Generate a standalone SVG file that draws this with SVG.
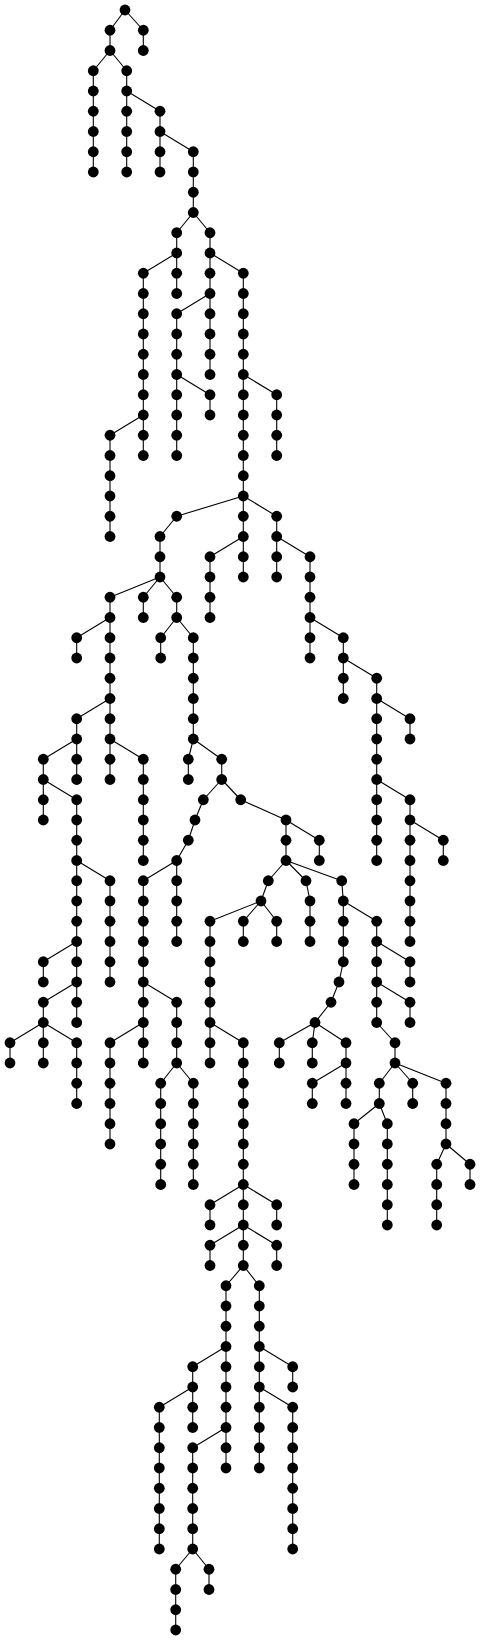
<svg xmlns="http://www.w3.org/2000/svg" width="480" height="1642" viewBox="0 0 480 1642">
<style>
.e line{stroke:#000;stroke-width:1.1}
circle{fill:#000}
</style>
<rect width="480" height="1642" fill="#fff"/>
<g id="connectors" class="e">
<line x1="110" y1="30.25" x2="110" y2="50.5"/>
<line x1="143.3" y1="30.25" x2="143.3" y2="50.5"/>
<line x1="93.3" y1="70.75" x2="93.3" y2="172"/>
<line x1="126.7" y1="70.75" x2="126.7" y2="172"/>
<line x1="160" y1="111.25" x2="160" y2="172"/>
<line x1="193.3" y1="151.75" x2="193.3" y2="212.5"/>
<line x1="176.7" y1="232.75" x2="176.7" y2="293.5"/>
<line x1="210" y1="232.75" x2="210" y2="374.5"/>
<line x1="143.3" y1="273.25" x2="143.3" y2="455.5"/>
<line x1="110" y1="435.25" x2="110" y2="536.5"/>
<line x1="176.7" y1="313.75" x2="176.7" y2="455.5"/>
<line x1="210" y1="394.75" x2="210" y2="415"/>
<line x1="243.3" y1="273.25" x2="243.3" y2="577"/>
<line x1="276.7" y1="394.75" x2="276.7" y2="455.5"/>
<line x1="276.7" y1="516.25" x2="276.7" y2="577"/>
<line x1="160" y1="536.5" x2="160" y2="577"/>
<line x1="110" y1="597.25" x2="110" y2="779.5"/>
<line x1="143.3" y1="597.25" x2="143.3" y2="617.5"/>
<line x1="176.7" y1="597.25" x2="176.7" y2="617.5"/>
<line x1="76.7" y1="637.75" x2="76.7" y2="658"/>
<line x1="76.7" y1="718.75" x2="76.7" y2="779.5"/>
<line x1="43.3" y1="759.25" x2="43.3" y2="820"/>
<line x1="76.7" y1="799.75" x2="76.7" y2="1022.5"/>
<line x1="76.7" y1="1042.75" x2="76.7" y2="1103.5"/>
<line x1="110" y1="880.75" x2="110" y2="982"/>
<line x1="43.3" y1="961.75" x2="43.3" y2="982"/>
<line x1="43.3" y1="1002.25" x2="43.3" y2="1063"/>
<line x1="10" y1="1042.75" x2="10" y2="1063"/>
<line x1="143.3" y1="759.25" x2="143.3" y2="860.5"/>
<line x1="160.7" y1="637.75" x2="160.7" y2="658"/>
<line x1="193.3" y1="637.75" x2="193.3" y2="739"/>
<line x1="188.3" y1="759.25" x2="188.3" y2="779.5"/>
<line x1="221.7" y1="759.25" x2="221.7" y2="779.5"/>
<line x1="176.7" y1="860.5" x2="176.7" y2="941.5"/>
<line x1="143.3" y1="880.75" x2="143.3" y2="1063"/>
<line x1="110" y1="1042.75" x2="110" y2="1144"/>
<line x1="176.7" y1="1002.25" x2="176.7" y2="1063"/>
<line x1="160.7" y1="1083.25" x2="160.7" y2="1184.5"/>
<line x1="193.3" y1="1083.25" x2="193.3" y2="1184.5"/>
<line x1="286" y1="820" x2="286" y2="860.5"/>
<line x1="319.3" y1="840.25" x2="319.3" y2="860.5"/>
<line x1="210" y1="921.25" x2="210" y2="1063"/>
<line x1="243.3" y1="1042.75" x2="243.3" y2="1265.5"/>
<line x1="210" y1="1204.75" x2="210" y2="1225"/>
<line x1="210" y1="1245.25" x2="210" y2="1265.5"/>
<line x1="276.7" y1="1204.75" x2="276.7" y2="1225"/>
<line x1="276.7" y1="1245.25" x2="276.7" y2="1265.5"/>
<line x1="226" y1="1285.75" x2="226" y2="1468"/>
<line x1="192.7" y1="1366.75" x2="192.7" y2="1427.5"/>
<line x1="159.3" y1="1407.25" x2="159.3" y2="1549"/>
<line x1="192.7" y1="1447.75" x2="192.7" y2="1549"/>
<line x1="175.7" y1="1569.25" x2="175.7" y2="1630"/>
<line x1="209" y1="1569.25" x2="209" y2="1589.5"/>
<line x1="259.3" y1="1285.75" x2="259.3" y2="1468"/>
<line x1="292.7" y1="1366.75" x2="292.7" y2="1387"/>
<line x1="292.7" y1="1407.25" x2="292.7" y2="1549"/>
<line x1="243.3" y1="921.25" x2="243.3" y2="941.5"/>
<line x1="276.7" y1="921.25" x2="276.7" y2="941.5"/>
<line x1="310" y1="901" x2="310" y2="941.5"/>
<line x1="343.3" y1="901" x2="343.3" y2="961.75"/>
<line x1="279.3" y1="1042.75" x2="279.3" y2="1063"/>
<line x1="312.3" y1="1042.75" x2="312.3" y2="1063"/>
<line x1="346" y1="1042.75" x2="346" y2="1103.5"/>
<line x1="312.3" y1="1083.25" x2="312.3" y2="1103.5"/>
<line x1="376.7" y1="921.25" x2="376.7" y2="1022.5"/>
<line x1="410" y1="961.75" x2="410" y2="982"/>
<line x1="410" y1="1002.25" x2="410" y2="1022.5"/>
<line x1="395" y1="1042.75" x2="395" y2="1063"/>
<line x1="379.3" y1="1083.25" x2="379.3" y2="1103.5"/>
<line x1="354" y1="1123.75" x2="354" y2="1184.5"/>
<line x1="387.3" y1="1123.75" x2="387.3" y2="1225"/>
<line x1="412.7" y1="1083.25" x2="412.7" y2="1103.5"/>
<line x1="446" y1="1083.25" x2="446" y2="1144"/>
<line x1="436.7" y1="1164.25" x2="436.7" y2="1225"/>
<line x1="470" y1="1164.25" x2="470" y2="1184.5"/>
<line x1="210" y1="556.75" x2="210" y2="617.5"/>
<line x1="310" y1="556.75" x2="310" y2="658"/>
<line x1="343.3" y1="637.75" x2="343.3" y2="698.5"/>
<line x1="376.7" y1="678.25" x2="376.7" y2="860.5"/>
<line x1="410" y1="718.75" x2="410" y2="739"/>
<line x1="410" y1="799.75" x2="410" y2="941.5"/>
<line x1="443.3" y1="840.25" x2="443.3" y2="860.5"/>
<line x1="125" y1="10" x2="110" y2="30.25"/>
<line x1="125" y1="10" x2="143.3" y2="30.25"/>
<line x1="110" y1="50.5" x2="93.3" y2="70.75"/>
<line x1="110" y1="50.5" x2="126.7" y2="70.75"/>
<line x1="126.7" y1="91" x2="160" y2="111.25"/>
<line x1="160" y1="131.5" x2="193.3" y2="151.75"/>
<line x1="193.3" y1="212.5" x2="176.7" y2="232.75"/>
<line x1="193.3" y1="212.5" x2="210" y2="232.75"/>
<line x1="176.7" y1="253" x2="143.3" y2="273.25"/>
<line x1="143.3" y1="415" x2="110" y2="435.25"/>
<line x1="210" y1="293.5" x2="176.7" y2="313.75"/>
<line x1="176.7" y1="374.5" x2="210" y2="394.75"/>
<line x1="210" y1="253" x2="243.3" y2="273.25"/>
<line x1="243.3" y1="374.5" x2="276.7" y2="394.75"/>
<line x1="243.3" y1="496" x2="176.7" y2="516.25"/>
<line x1="176.7" y1="516.25" x2="160" y2="536.5"/>
<line x1="160" y1="577" x2="110" y2="597.25"/>
<line x1="160" y1="577" x2="143.3" y2="597.25"/>
<line x1="160" y1="577" x2="176.7" y2="597.25"/>
<line x1="110" y1="617.5" x2="76.7" y2="637.75"/>
<line x1="110" y1="698.5" x2="76.7" y2="718.75"/>
<line x1="76.7" y1="739" x2="43.3" y2="759.25"/>
<line x1="43.3" y1="779.5" x2="76.7" y2="799.75"/>
<line x1="76.7" y1="860.5" x2="110" y2="880.75"/>
<line x1="76.7" y1="941.5" x2="43.3" y2="961.75"/>
<line x1="76.7" y1="982" x2="43.3" y2="1002.25"/>
<line x1="43.3" y1="1022.5" x2="10" y2="1042.75"/>
<line x1="43.3" y1="1022.5" x2="76.7" y2="1042.75"/>
<line x1="110" y1="739" x2="143.3" y2="759.25"/>
<line x1="176.7" y1="617.5" x2="160.7" y2="637.75"/>
<line x1="176.7" y1="617.5" x2="193.3" y2="637.75"/>
<line x1="193.3" y1="739" x2="188.3" y2="759.25"/>
<line x1="193.3" y1="739" x2="221.7" y2="759.25"/>
<line x1="221.7" y1="779.5" x2="203.3" y2="799.75"/>
<line x1="203.3" y1="799.75" x2="195" y2="820"/>
<line x1="195" y1="820" x2="188.3" y2="840.25"/>
<line x1="188.3" y1="840.25" x2="176.7" y2="860.5"/>
<line x1="176.7" y1="860.5" x2="143.3" y2="880.75"/>
<line x1="143.3" y1="1022.5" x2="110" y2="1042.75"/>
<line x1="143.3" y1="982" x2="176.7" y2="1002.25"/>
<line x1="176.7" y1="1063" x2="160.7" y2="1083.25"/>
<line x1="176.7" y1="1063" x2="193.3" y2="1083.25"/>
<line x1="221.7" y1="779.5" x2="240.7" y2="799.75"/>
<line x1="240.7" y1="799.75" x2="286" y2="820"/>
<line x1="286" y1="820" x2="319.3" y2="840.25"/>
<line x1="286" y1="860.5" x2="268.3" y2="880.75"/>
<line x1="268.3" y1="880.75" x2="261" y2="901"/>
<line x1="261" y1="901" x2="210" y2="921.25"/>
<line x1="210" y1="1022.5" x2="243.3" y2="1042.75"/>
<line x1="243.3" y1="1184.5" x2="210" y2="1204.75"/>
<line x1="243.3" y1="1184.5" x2="276.7" y2="1204.75"/>
<line x1="243.3" y1="1225" x2="210" y2="1245.25"/>
<line x1="243.3" y1="1225" x2="276.7" y2="1245.25"/>
<line x1="243.3" y1="1265.5" x2="226" y2="1285.75"/>
<line x1="243.3" y1="1265.5" x2="259.3" y2="1285.75"/>
<line x1="226" y1="1346.5" x2="192.7" y2="1366.75"/>
<line x1="192.7" y1="1387" x2="159.3" y2="1407.25"/>
<line x1="226" y1="1427.5" x2="192.7" y2="1447.75"/>
<line x1="192.7" y1="1549" x2="175.7" y2="1569.25"/>
<line x1="192.7" y1="1549" x2="209" y2="1569.25"/>
<line x1="259.3" y1="1346.5" x2="292.7" y2="1366.75"/>
<line x1="259.3" y1="1387" x2="292.7" y2="1407.25"/>
<line x1="261" y1="901" x2="243.3" y2="921.25"/>
<line x1="261" y1="901" x2="276.7" y2="921.25"/>
<line x1="286" y1="860.5" x2="306" y2="880.75"/>
<line x1="306" y1="880.75" x2="310" y2="901"/>
<line x1="286" y1="860.5" x2="341.7" y2="880.75"/>
<line x1="341.7" y1="880.75" x2="343.3" y2="901"/>
<line x1="343.3" y1="961.75" x2="339" y2="982"/>
<line x1="339" y1="982" x2="331" y2="1002.25"/>
<line x1="331" y1="1002.25" x2="315" y2="1022.5"/>
<line x1="315" y1="1022.5" x2="279.3" y2="1042.75"/>
<line x1="315" y1="1022.5" x2="312.3" y2="1042.75"/>
<line x1="315" y1="1022.5" x2="346" y2="1042.75"/>
<line x1="346" y1="1063" x2="312.3" y2="1083.25"/>
<line x1="343.3" y1="901" x2="376.7" y2="921.25"/>
<line x1="376.7" y1="941.5" x2="410" y2="961.75"/>
<line x1="376.7" y1="982" x2="410" y2="1002.25"/>
<line x1="376.7" y1="1022.5" x2="395" y2="1042.75"/>
<line x1="395" y1="1063" x2="379.3" y2="1083.25"/>
<line x1="395" y1="1063" x2="412.7" y2="1083.25"/>
<line x1="395" y1="1063" x2="446" y2="1083.25"/>
<line x1="379.3" y1="1103.5" x2="354" y2="1123.75"/>
<line x1="379.3" y1="1103.5" x2="387.3" y2="1123.75"/>
<line x1="446" y1="1144" x2="436.7" y2="1164.25"/>
<line x1="446" y1="1144" x2="470" y2="1164.25"/>
<line x1="243.3" y1="536.5" x2="210" y2="556.75"/>
<line x1="243.3" y1="496" x2="276.7" y2="516.25"/>
<line x1="276.7" y1="536.5" x2="310" y2="556.75"/>
<line x1="310" y1="617.5" x2="343.3" y2="637.75"/>
<line x1="343.3" y1="658" x2="376.7" y2="678.25"/>
<line x1="376.7" y1="698.5" x2="410" y2="718.75"/>
<line x1="376.7" y1="779.5" x2="410" y2="799.75"/>
<line x1="410" y1="820" x2="443.3" y2="840.25"/>
</g>
<g id="nodes">
<g id="n0"><circle cx="125" cy="10" r="5.4"/></g>
<g id="n1"><circle cx="110" cy="30.25" r="5.4"/></g>
<g id="n2"><circle cx="143.3" cy="30.25" r="5.4"/></g>
<g id="n3"><circle cx="110" cy="50.5" r="5.4"/></g>
<g id="n4"><circle cx="143.3" cy="50.5" r="5.4"/></g>
<g id="n5"><circle cx="93.3" cy="70.75" r="5.4"/></g>
<g id="n6"><circle cx="93.3" cy="91" r="5.4"/></g>
<g id="n7"><circle cx="93.3" cy="111.25" r="5.4"/></g>
<g id="n8"><circle cx="93.3" cy="131.5" r="5.4"/></g>
<g id="n9"><circle cx="93.3" cy="151.75" r="5.4"/></g>
<g id="n10"><circle cx="93.3" cy="172" r="5.4"/></g>
<g id="n11"><circle cx="126.7" cy="70.75" r="5.4"/></g>
<g id="n12"><circle cx="126.7" cy="91" r="5.4"/></g>
<g id="n13"><circle cx="126.7" cy="111.25" r="5.4"/></g>
<g id="n14"><circle cx="126.7" cy="131.5" r="5.4"/></g>
<g id="n15"><circle cx="126.7" cy="151.75" r="5.4"/></g>
<g id="n16"><circle cx="126.7" cy="172" r="5.4"/></g>
<g id="n17"><circle cx="160" cy="111.25" r="5.4"/></g>
<g id="n18"><circle cx="160" cy="131.5" r="5.4"/></g>
<g id="n19"><circle cx="160" cy="151.75" r="5.4"/></g>
<g id="n20"><circle cx="160" cy="172" r="5.4"/></g>
<g id="n21"><circle cx="193.3" cy="151.75" r="5.4"/></g>
<g id="n22"><circle cx="193.3" cy="172" r="5.4"/></g>
<g id="n23"><circle cx="193.3" cy="192.25" r="5.4"/></g>
<g id="n24"><circle cx="193.3" cy="212.5" r="5.4"/></g>
<g id="n25"><circle cx="176.7" cy="232.75" r="5.4"/></g>
<g id="n26"><circle cx="176.7" cy="253" r="5.4"/></g>
<g id="n27"><circle cx="210" cy="232.75" r="5.4"/></g>
<g id="n28"><circle cx="210" cy="253" r="5.4"/></g>
<g id="n29"><circle cx="143.3" cy="273.25" r="5.4"/></g>
<g id="n30"><circle cx="143.3" cy="293.5" r="5.4"/></g>
<g id="n31"><circle cx="143.3" cy="313.75" r="5.4"/></g>
<g id="n32"><circle cx="143.3" cy="334" r="5.4"/></g>
<g id="n33"><circle cx="143.3" cy="354.25" r="5.4"/></g>
<g id="n34"><circle cx="143.3" cy="374.5" r="5.4"/></g>
<g id="n35"><circle cx="143.3" cy="394.75" r="5.4"/></g>
<g id="n36"><circle cx="143.3" cy="415" r="5.4"/></g>
<g id="n37"><circle cx="176.7" cy="273.25" r="5.4"/></g>
<g id="n38"><circle cx="176.7" cy="293.5" r="5.4"/></g>
<g id="n39"><circle cx="143.3" cy="435.25" r="5.4"/></g>
<g id="n40"><circle cx="143.3" cy="455.5" r="5.4"/></g>
<g id="n41"><circle cx="110" cy="435.25" r="5.4"/></g>
<g id="n42"><circle cx="110" cy="455.5" r="5.4"/></g>
<g id="n43"><circle cx="110" cy="475.75" r="5.4"/></g>
<g id="n44"><circle cx="110" cy="496" r="5.4"/></g>
<g id="n45"><circle cx="110" cy="516.25" r="5.4"/></g>
<g id="n46"><circle cx="110" cy="536.5" r="5.4"/></g>
<g id="n47"><circle cx="210" cy="273.25" r="5.4"/></g>
<g id="n48"><circle cx="210" cy="293.5" r="5.4"/></g>
<g id="n49"><circle cx="176.7" cy="313.75" r="5.4"/></g>
<g id="n50"><circle cx="176.7" cy="334" r="5.4"/></g>
<g id="n51"><circle cx="176.7" cy="354.25" r="5.4"/></g>
<g id="n52"><circle cx="176.7" cy="374.5" r="5.4"/></g>
<g id="n53"><circle cx="176.7" cy="394.75" r="5.4"/></g>
<g id="n54"><circle cx="176.7" cy="415" r="5.4"/></g>
<g id="n55"><circle cx="176.7" cy="435.25" r="5.4"/></g>
<g id="n56"><circle cx="176.7" cy="455.5" r="5.4"/></g>
<g id="n57"><circle cx="210" cy="313.75" r="5.4"/></g>
<g id="n58"><circle cx="210" cy="334" r="5.4"/></g>
<g id="n59"><circle cx="210" cy="354.25" r="5.4"/></g>
<g id="n60"><circle cx="210" cy="374.5" r="5.4"/></g>
<g id="n61"><circle cx="210" cy="394.75" r="5.4"/></g>
<g id="n62"><circle cx="210" cy="415" r="5.4"/></g>
<g id="n63"><circle cx="243.3" cy="273.25" r="5.4"/></g>
<g id="n64"><circle cx="243.3" cy="293.5" r="5.4"/></g>
<g id="n65"><circle cx="243.3" cy="313.75" r="5.4"/></g>
<g id="n66"><circle cx="243.3" cy="334" r="5.4"/></g>
<g id="n67"><circle cx="243.3" cy="354.25" r="5.4"/></g>
<g id="n68"><circle cx="243.3" cy="374.5" r="5.4"/></g>
<g id="n69"><circle cx="243.3" cy="394.75" r="5.4"/></g>
<g id="n70"><circle cx="243.3" cy="415" r="5.4"/></g>
<g id="n71"><circle cx="243.3" cy="435.25" r="5.4"/></g>
<g id="n72"><circle cx="243.3" cy="455.5" r="5.4"/></g>
<g id="n73"><circle cx="243.3" cy="475.75" r="5.4"/></g>
<g id="n74"><circle cx="243.3" cy="496" r="5.4"/></g>
<g id="n75"><circle cx="276.7" cy="394.75" r="5.4"/></g>
<g id="n76"><circle cx="276.7" cy="415" r="5.4"/></g>
<g id="n77"><circle cx="276.7" cy="435.25" r="5.4"/></g>
<g id="n78"><circle cx="276.7" cy="455.5" r="5.4"/></g>
<g id="n79"><circle cx="176.7" cy="516.25" r="5.4"/></g>
<g id="n80"><circle cx="160" cy="536.5" r="5.4"/></g>
<g id="n81"><circle cx="160" cy="556.75" r="5.4"/></g>
<g id="n82"><circle cx="160" cy="577" r="5.4"/></g>
<g id="n83"><circle cx="110" cy="597.25" r="5.4"/></g>
<g id="n84"><circle cx="110" cy="617.5" r="5.4"/></g>
<g id="n85"><circle cx="143.3" cy="597.25" r="5.4"/></g>
<g id="n86"><circle cx="143.3" cy="617.5" r="5.4"/></g>
<g id="n87"><circle cx="176.7" cy="597.25" r="5.4"/></g>
<g id="n88"><circle cx="176.7" cy="617.5" r="5.4"/></g>
<g id="n89"><circle cx="76.7" cy="637.75" r="5.4"/></g>
<g id="n90"><circle cx="76.7" cy="658" r="5.4"/></g>
<g id="n91"><circle cx="110" cy="637.75" r="5.4"/></g>
<g id="n92"><circle cx="110" cy="658" r="5.4"/></g>
<g id="n93"><circle cx="110" cy="678.25" r="5.4"/></g>
<g id="n94"><circle cx="110" cy="698.5" r="5.4"/></g>
<g id="n95"><circle cx="76.7" cy="718.75" r="5.4"/></g>
<g id="n96"><circle cx="76.7" cy="739" r="5.4"/></g>
<g id="n97"><circle cx="43.3" cy="759.25" r="5.4"/></g>
<g id="n98"><circle cx="43.3" cy="779.5" r="5.4"/></g>
<g id="n99"><circle cx="76.7" cy="759.25" r="5.4"/></g>
<g id="n100"><circle cx="76.7" cy="779.5" r="5.4"/></g>
<g id="n101"><circle cx="43.3" cy="799.75" r="5.4"/></g>
<g id="n102"><circle cx="43.3" cy="820" r="5.4"/></g>
<g id="n103"><circle cx="76.7" cy="799.75" r="5.4"/></g>
<g id="n104"><circle cx="76.7" cy="820" r="5.4"/></g>
<g id="n105"><circle cx="76.7" cy="840.25" r="5.4"/></g>
<g id="n106"><circle cx="76.7" cy="860.5" r="5.4"/></g>
<g id="n107"><circle cx="76.7" cy="880.75" r="5.4"/></g>
<g id="n108"><circle cx="76.7" cy="901" r="5.4"/></g>
<g id="n109"><circle cx="76.7" cy="921.25" r="5.4"/></g>
<g id="n110"><circle cx="76.7" cy="941.5" r="5.4"/></g>
<g id="n111"><circle cx="110" cy="880.75" r="5.4"/></g>
<g id="n112"><circle cx="110" cy="901" r="5.4"/></g>
<g id="n113"><circle cx="110" cy="921.25" r="5.4"/></g>
<g id="n114"><circle cx="110" cy="941.5" r="5.4"/></g>
<g id="n115"><circle cx="110" cy="961.75" r="5.4"/></g>
<g id="n116"><circle cx="110" cy="982" r="5.4"/></g>
<g id="n117"><circle cx="43.3" cy="961.75" r="5.4"/></g>
<g id="n118"><circle cx="43.3" cy="982" r="5.4"/></g>
<g id="n119"><circle cx="76.7" cy="961.75" r="5.4"/></g>
<g id="n120"><circle cx="76.7" cy="982" r="5.4"/></g>
<g id="n121"><circle cx="43.3" cy="1002.25" r="5.4"/></g>
<g id="n122"><circle cx="43.3" cy="1022.5" r="5.4"/></g>
<g id="n123"><circle cx="76.7" cy="1002.25" r="5.4"/></g>
<g id="n124"><circle cx="76.7" cy="1022.5" r="5.4"/></g>
<g id="n125"><circle cx="10" cy="1042.75" r="5.4"/></g>
<g id="n126"><circle cx="10" cy="1063" r="5.4"/></g>
<g id="n127"><circle cx="43.3" cy="1042.75" r="5.4"/></g>
<g id="n128"><circle cx="43.3" cy="1063" r="5.4"/></g>
<g id="n129"><circle cx="76.7" cy="1042.75" r="5.4"/></g>
<g id="n130"><circle cx="76.7" cy="1063" r="5.4"/></g>
<g id="n131"><circle cx="76.7" cy="1083.25" r="5.4"/></g>
<g id="n132"><circle cx="76.7" cy="1103.5" r="5.4"/></g>
<g id="n133"><circle cx="110" cy="718.75" r="5.4"/></g>
<g id="n134"><circle cx="110" cy="739" r="5.4"/></g>
<g id="n135"><circle cx="110" cy="759.25" r="5.4"/></g>
<g id="n136"><circle cx="110" cy="779.5" r="5.4"/></g>
<g id="n137"><circle cx="143.3" cy="759.25" r="5.4"/></g>
<g id="n138"><circle cx="143.3" cy="779.5" r="5.4"/></g>
<g id="n139"><circle cx="143.3" cy="799.75" r="5.4"/></g>
<g id="n140"><circle cx="143.3" cy="820" r="5.4"/></g>
<g id="n141"><circle cx="143.3" cy="840.25" r="5.4"/></g>
<g id="n142"><circle cx="143.3" cy="860.5" r="5.4"/></g>
<g id="n143"><circle cx="160.7" cy="637.75" r="5.4"/></g>
<g id="n144"><circle cx="160.7" cy="658" r="5.4"/></g>
<g id="n145"><circle cx="193.3" cy="637.75" r="5.4"/></g>
<g id="n146"><circle cx="193.3" cy="658" r="5.4"/></g>
<g id="n147"><circle cx="193.3" cy="678.25" r="5.4"/></g>
<g id="n148"><circle cx="193.3" cy="698.5" r="5.4"/></g>
<g id="n149"><circle cx="193.3" cy="718.75" r="5.4"/></g>
<g id="n150"><circle cx="193.3" cy="739" r="5.4"/></g>
<g id="n151"><circle cx="188.3" cy="759.25" r="5.4"/></g>
<g id="n152"><circle cx="188.3" cy="779.5" r="5.4"/></g>
<g id="n153"><circle cx="221.7" cy="759.25" r="5.4"/></g>
<g id="n154"><circle cx="221.7" cy="779.5" r="5.4"/></g>
<g id="n155"><circle cx="203.3" cy="799.75" r="5.4"/></g>
<g id="n156"><circle cx="195" cy="820" r="5.4"/></g>
<g id="n157"><circle cx="188.3" cy="840.25" r="5.4"/></g>
<g id="n158"><circle cx="176.7" cy="860.5" r="5.4"/></g>
<g id="n159"><circle cx="176.7" cy="880.75" r="5.4"/></g>
<g id="n160"><circle cx="176.7" cy="901" r="5.4"/></g>
<g id="n161"><circle cx="176.7" cy="921.25" r="5.4"/></g>
<g id="n162"><circle cx="176.7" cy="941.5" r="5.4"/></g>
<g id="n163"><circle cx="143.3" cy="880.75" r="5.4"/></g>
<g id="n164"><circle cx="143.3" cy="901" r="5.4"/></g>
<g id="n165"><circle cx="143.3" cy="921.25" r="5.4"/></g>
<g id="n166"><circle cx="143.3" cy="941.5" r="5.4"/></g>
<g id="n167"><circle cx="143.3" cy="961.75" r="5.4"/></g>
<g id="n168"><circle cx="143.3" cy="982" r="5.4"/></g>
<g id="n169"><circle cx="143.3" cy="1002.25" r="5.4"/></g>
<g id="n170"><circle cx="143.3" cy="1022.5" r="5.4"/></g>
<g id="n171"><circle cx="143.3" cy="1042.75" r="5.4"/></g>
<g id="n172"><circle cx="143.3" cy="1063" r="5.4"/></g>
<g id="n173"><circle cx="110" cy="1042.75" r="5.4"/></g>
<g id="n174"><circle cx="110" cy="1063" r="5.4"/></g>
<g id="n175"><circle cx="110" cy="1083.25" r="5.4"/></g>
<g id="n176"><circle cx="110" cy="1103.5" r="5.4"/></g>
<g id="n177"><circle cx="110" cy="1123.75" r="5.4"/></g>
<g id="n178"><circle cx="110" cy="1144" r="5.4"/></g>
<g id="n179"><circle cx="176.7" cy="1002.25" r="5.4"/></g>
<g id="n180"><circle cx="176.7" cy="1022.5" r="5.4"/></g>
<g id="n181"><circle cx="176.7" cy="1042.75" r="5.4"/></g>
<g id="n182"><circle cx="176.7" cy="1063" r="5.4"/></g>
<g id="n183"><circle cx="160.7" cy="1083.25" r="5.4"/></g>
<g id="n184"><circle cx="160.7" cy="1103.5" r="5.4"/></g>
<g id="n185"><circle cx="160.7" cy="1123.75" r="5.4"/></g>
<g id="n186"><circle cx="160.7" cy="1144" r="5.4"/></g>
<g id="n187"><circle cx="160.7" cy="1164.25" r="5.4"/></g>
<g id="n188"><circle cx="160.7" cy="1184.5" r="5.4"/></g>
<g id="n189"><circle cx="193.3" cy="1083.25" r="5.4"/></g>
<g id="n190"><circle cx="193.3" cy="1103.5" r="5.4"/></g>
<g id="n191"><circle cx="193.3" cy="1123.75" r="5.4"/></g>
<g id="n192"><circle cx="193.3" cy="1144" r="5.4"/></g>
<g id="n193"><circle cx="193.3" cy="1164.25" r="5.4"/></g>
<g id="n194"><circle cx="193.3" cy="1184.5" r="5.4"/></g>
<g id="n195"><circle cx="240.7" cy="799.75" r="5.4"/></g>
<g id="n196"><circle cx="286" cy="820" r="5.4"/></g>
<g id="n197"><circle cx="286" cy="840.25" r="5.4"/></g>
<g id="n198"><circle cx="286" cy="860.5" r="5.4"/></g>
<g id="n199"><circle cx="319.3" cy="840.25" r="5.4"/></g>
<g id="n200"><circle cx="319.3" cy="860.5" r="5.4"/></g>
<g id="n201"><circle cx="268.3" cy="880.75" r="5.4"/></g>
<g id="n202"><circle cx="261" cy="901" r="5.4"/></g>
<g id="n203"><circle cx="210" cy="921.25" r="5.4"/></g>
<g id="n204"><circle cx="210" cy="941.5" r="5.4"/></g>
<g id="n205"><circle cx="210" cy="961.75" r="5.4"/></g>
<g id="n206"><circle cx="210" cy="982" r="5.4"/></g>
<g id="n207"><circle cx="210" cy="1002.25" r="5.4"/></g>
<g id="n208"><circle cx="210" cy="1022.5" r="5.4"/></g>
<g id="n209"><circle cx="210" cy="1042.75" r="5.4"/></g>
<g id="n210"><circle cx="210" cy="1063" r="5.4"/></g>
<g id="n211"><circle cx="243.3" cy="1042.75" r="5.4"/></g>
<g id="n212"><circle cx="243.3" cy="1063" r="5.4"/></g>
<g id="n213"><circle cx="243.3" cy="1083.25" r="5.4"/></g>
<g id="n214"><circle cx="243.3" cy="1103.5" r="5.4"/></g>
<g id="n215"><circle cx="243.3" cy="1123.75" r="5.4"/></g>
<g id="n216"><circle cx="243.3" cy="1144" r="5.4"/></g>
<g id="n217"><circle cx="243.3" cy="1164.25" r="5.4"/></g>
<g id="n218"><circle cx="243.3" cy="1184.5" r="5.4"/></g>
<g id="n219"><circle cx="210" cy="1204.75" r="5.4"/></g>
<g id="n220"><circle cx="210" cy="1225" r="5.4"/></g>
<g id="n221"><circle cx="243.3" cy="1204.75" r="5.4"/></g>
<g id="n222"><circle cx="243.3" cy="1225" r="5.4"/></g>
<g id="n223"><circle cx="276.7" cy="1204.75" r="5.4"/></g>
<g id="n224"><circle cx="276.7" cy="1225" r="5.4"/></g>
<g id="n225"><circle cx="210" cy="1245.25" r="5.4"/></g>
<g id="n226"><circle cx="210" cy="1265.5" r="5.4"/></g>
<g id="n227"><circle cx="243.3" cy="1245.25" r="5.4"/></g>
<g id="n228"><circle cx="243.3" cy="1265.5" r="5.4"/></g>
<g id="n229"><circle cx="276.7" cy="1245.25" r="5.4"/></g>
<g id="n230"><circle cx="276.7" cy="1265.5" r="5.4"/></g>
<g id="n231"><circle cx="226" cy="1285.75" r="5.4"/></g>
<g id="n232"><circle cx="226" cy="1306" r="5.4"/></g>
<g id="n233"><circle cx="226" cy="1326.25" r="5.4"/></g>
<g id="n234"><circle cx="226" cy="1346.5" r="5.4"/></g>
<g id="n235"><circle cx="192.7" cy="1366.75" r="5.4"/></g>
<g id="n236"><circle cx="192.7" cy="1387" r="5.4"/></g>
<g id="n237"><circle cx="159.3" cy="1407.25" r="5.4"/></g>
<g id="n238"><circle cx="159.3" cy="1427.5" r="5.4"/></g>
<g id="n239"><circle cx="159.3" cy="1447.75" r="5.4"/></g>
<g id="n240"><circle cx="159.3" cy="1468" r="5.4"/></g>
<g id="n241"><circle cx="159.3" cy="1488.25" r="5.4"/></g>
<g id="n242"><circle cx="159.3" cy="1508.5" r="5.4"/></g>
<g id="n243"><circle cx="159.3" cy="1528.75" r="5.4"/></g>
<g id="n244"><circle cx="159.3" cy="1549" r="5.4"/></g>
<g id="n245"><circle cx="192.7" cy="1407.25" r="5.4"/></g>
<g id="n246"><circle cx="192.7" cy="1427.5" r="5.4"/></g>
<g id="n247"><circle cx="226" cy="1366.75" r="5.4"/></g>
<g id="n248"><circle cx="226" cy="1387" r="5.4"/></g>
<g id="n249"><circle cx="226" cy="1407.25" r="5.4"/></g>
<g id="n250"><circle cx="226" cy="1427.5" r="5.4"/></g>
<g id="n251"><circle cx="192.7" cy="1447.75" r="5.4"/></g>
<g id="n252"><circle cx="192.7" cy="1468" r="5.4"/></g>
<g id="n253"><circle cx="192.7" cy="1488.25" r="5.4"/></g>
<g id="n254"><circle cx="192.7" cy="1508.5" r="5.4"/></g>
<g id="n255"><circle cx="192.7" cy="1528.75" r="5.4"/></g>
<g id="n256"><circle cx="192.7" cy="1549" r="5.4"/></g>
<g id="n257"><circle cx="226" cy="1447.75" r="5.4"/></g>
<g id="n258"><circle cx="226" cy="1468" r="5.4"/></g>
<g id="n259"><circle cx="175.7" cy="1569.25" r="5.4"/></g>
<g id="n260"><circle cx="175.7" cy="1589.5" r="5.4"/></g>
<g id="n261"><circle cx="175.7" cy="1609.75" r="5.4"/></g>
<g id="n262"><circle cx="175.7" cy="1630" r="5.4"/></g>
<g id="n263"><circle cx="209" cy="1569.25" r="5.4"/></g>
<g id="n264"><circle cx="209" cy="1589.5" r="5.4"/></g>
<g id="n265"><circle cx="259.3" cy="1285.75" r="5.4"/></g>
<g id="n266"><circle cx="259.3" cy="1306" r="5.4"/></g>
<g id="n267"><circle cx="259.3" cy="1326.25" r="5.4"/></g>
<g id="n268"><circle cx="259.3" cy="1346.5" r="5.4"/></g>
<g id="n269"><circle cx="259.3" cy="1366.75" r="5.4"/></g>
<g id="n270"><circle cx="259.3" cy="1387" r="5.4"/></g>
<g id="n271"><circle cx="292.7" cy="1366.75" r="5.4"/></g>
<g id="n272"><circle cx="292.7" cy="1387" r="5.4"/></g>
<g id="n273"><circle cx="259.3" cy="1407.25" r="5.4"/></g>
<g id="n274"><circle cx="259.3" cy="1427.5" r="5.4"/></g>
<g id="n275"><circle cx="259.3" cy="1447.75" r="5.4"/></g>
<g id="n276"><circle cx="259.3" cy="1468" r="5.4"/></g>
<g id="n277"><circle cx="292.7" cy="1407.25" r="5.4"/></g>
<g id="n278"><circle cx="292.7" cy="1427.5" r="5.4"/></g>
<g id="n279"><circle cx="292.7" cy="1447.75" r="5.4"/></g>
<g id="n280"><circle cx="292.7" cy="1468" r="5.4"/></g>
<g id="n281"><circle cx="292.7" cy="1488.25" r="5.4"/></g>
<g id="n282"><circle cx="292.7" cy="1508.5" r="5.4"/></g>
<g id="n283"><circle cx="292.7" cy="1528.75" r="5.4"/></g>
<g id="n284"><circle cx="292.7" cy="1549" r="5.4"/></g>
<g id="n285"><circle cx="243.3" cy="921.25" r="5.4"/></g>
<g id="n286"><circle cx="243.3" cy="941.5" r="5.4"/></g>
<g id="n287"><circle cx="276.7" cy="921.25" r="5.4"/></g>
<g id="n288"><circle cx="276.7" cy="941.5" r="5.4"/></g>
<g id="n289"><circle cx="306" cy="880.75" r="5.4"/></g>
<g id="n290"><circle cx="310" cy="901" r="5.4"/></g>
<g id="n291"><circle cx="310" cy="921.25" r="5.4"/></g>
<g id="n292"><circle cx="310" cy="941.5" r="5.4"/></g>
<g id="n293"><circle cx="341.7" cy="880.75" r="5.4"/></g>
<g id="n294"><circle cx="343.3" cy="901" r="5.4"/></g>
<g id="n295"><circle cx="343.3" cy="921.25" r="5.4"/></g>
<g id="n296"><circle cx="343.3" cy="941.5" r="5.4"/></g>
<g id="n297"><circle cx="343.3" cy="961.75" r="5.4"/></g>
<g id="n298"><circle cx="339" cy="982" r="5.4"/></g>
<g id="n299"><circle cx="331" cy="1002.25" r="5.4"/></g>
<g id="n300"><circle cx="315" cy="1022.5" r="5.4"/></g>
<g id="n301"><circle cx="279.3" cy="1042.75" r="5.4"/></g>
<g id="n302"><circle cx="279.3" cy="1063" r="5.4"/></g>
<g id="n303"><circle cx="312.3" cy="1042.75" r="5.4"/></g>
<g id="n304"><circle cx="312.3" cy="1063" r="5.4"/></g>
<g id="n305"><circle cx="346" cy="1042.75" r="5.4"/></g>
<g id="n306"><circle cx="346" cy="1063" r="5.4"/></g>
<g id="n307"><circle cx="312.3" cy="1083.25" r="5.4"/></g>
<g id="n308"><circle cx="312.3" cy="1103.5" r="5.4"/></g>
<g id="n309"><circle cx="346" cy="1083.25" r="5.4"/></g>
<g id="n310"><circle cx="346" cy="1103.5" r="5.4"/></g>
<g id="n311"><circle cx="376.7" cy="921.25" r="5.4"/></g>
<g id="n312"><circle cx="376.7" cy="941.5" r="5.4"/></g>
<g id="n313"><circle cx="410" cy="961.75" r="5.4"/></g>
<g id="n314"><circle cx="410" cy="982" r="5.4"/></g>
<g id="n315"><circle cx="376.7" cy="961.75" r="5.4"/></g>
<g id="n316"><circle cx="376.7" cy="982" r="5.4"/></g>
<g id="n317"><circle cx="410" cy="1002.25" r="5.4"/></g>
<g id="n318"><circle cx="410" cy="1022.5" r="5.4"/></g>
<g id="n319"><circle cx="376.7" cy="1002.25" r="5.4"/></g>
<g id="n320"><circle cx="376.7" cy="1022.5" r="5.4"/></g>
<g id="n321"><circle cx="395" cy="1042.75" r="5.4"/></g>
<g id="n322"><circle cx="395" cy="1063" r="5.4"/></g>
<g id="n323"><circle cx="379.3" cy="1083.25" r="5.4"/></g>
<g id="n324"><circle cx="379.3" cy="1103.5" r="5.4"/></g>
<g id="n325"><circle cx="354" cy="1123.75" r="5.4"/></g>
<g id="n326"><circle cx="354" cy="1144" r="5.4"/></g>
<g id="n327"><circle cx="354" cy="1164.25" r="5.4"/></g>
<g id="n328"><circle cx="354" cy="1184.5" r="5.4"/></g>
<g id="n329"><circle cx="387.3" cy="1123.75" r="5.4"/></g>
<g id="n330"><circle cx="387.3" cy="1144" r="5.4"/></g>
<g id="n331"><circle cx="387.3" cy="1164.25" r="5.4"/></g>
<g id="n332"><circle cx="387.3" cy="1184.5" r="5.4"/></g>
<g id="n333"><circle cx="387.3" cy="1204.75" r="5.4"/></g>
<g id="n334"><circle cx="387.3" cy="1225" r="5.4"/></g>
<g id="n335"><circle cx="412.7" cy="1083.25" r="5.4"/></g>
<g id="n336"><circle cx="412.7" cy="1103.5" r="5.4"/></g>
<g id="n337"><circle cx="446" cy="1083.25" r="5.4"/></g>
<g id="n338"><circle cx="446" cy="1103.5" r="5.4"/></g>
<g id="n339"><circle cx="446" cy="1123.75" r="5.4"/></g>
<g id="n340"><circle cx="446" cy="1144" r="5.4"/></g>
<g id="n341"><circle cx="436.7" cy="1164.25" r="5.4"/></g>
<g id="n342"><circle cx="436.7" cy="1184.5" r="5.4"/></g>
<g id="n343"><circle cx="436.7" cy="1204.75" r="5.4"/></g>
<g id="n344"><circle cx="436.7" cy="1225" r="5.4"/></g>
<g id="n345"><circle cx="470" cy="1164.25" r="5.4"/></g>
<g id="n346"><circle cx="470" cy="1184.5" r="5.4"/></g>
<g id="n347"><circle cx="243.3" cy="516.25" r="5.4"/></g>
<g id="n348"><circle cx="243.3" cy="536.5" r="5.4"/></g>
<g id="n349"><circle cx="210" cy="556.75" r="5.4"/></g>
<g id="n350"><circle cx="210" cy="577" r="5.4"/></g>
<g id="n351"><circle cx="210" cy="597.25" r="5.4"/></g>
<g id="n352"><circle cx="210" cy="617.5" r="5.4"/></g>
<g id="n353"><circle cx="243.3" cy="556.75" r="5.4"/></g>
<g id="n354"><circle cx="243.3" cy="577" r="5.4"/></g>
<g id="n355"><circle cx="276.7" cy="516.25" r="5.4"/></g>
<g id="n356"><circle cx="276.7" cy="536.5" r="5.4"/></g>
<g id="n357"><circle cx="276.7" cy="556.75" r="5.4"/></g>
<g id="n358"><circle cx="276.7" cy="577" r="5.4"/></g>
<g id="n359"><circle cx="310" cy="556.75" r="5.4"/></g>
<g id="n360"><circle cx="310" cy="577" r="5.4"/></g>
<g id="n361"><circle cx="310" cy="597.25" r="5.4"/></g>
<g id="n362"><circle cx="310" cy="617.5" r="5.4"/></g>
<g id="n363"><circle cx="310" cy="637.75" r="5.4"/></g>
<g id="n364"><circle cx="310" cy="658" r="5.4"/></g>
<g id="n365"><circle cx="343.3" cy="637.75" r="5.4"/></g>
<g id="n366"><circle cx="343.3" cy="658" r="5.4"/></g>
<g id="n367"><circle cx="343.3" cy="678.25" r="5.4"/></g>
<g id="n368"><circle cx="343.3" cy="698.5" r="5.4"/></g>
<g id="n369"><circle cx="376.7" cy="678.25" r="5.4"/></g>
<g id="n370"><circle cx="376.7" cy="698.5" r="5.4"/></g>
<g id="n371"><circle cx="410" cy="718.75" r="5.4"/></g>
<g id="n372"><circle cx="410" cy="739" r="5.4"/></g>
<g id="n373"><circle cx="376.7" cy="718.75" r="5.4"/></g>
<g id="n374"><circle cx="376.7" cy="739" r="5.4"/></g>
<g id="n375"><circle cx="376.7" cy="759.25" r="5.4"/></g>
<g id="n376"><circle cx="376.7" cy="779.5" r="5.4"/></g>
<g id="n377"><circle cx="410" cy="799.75" r="5.4"/></g>
<g id="n378"><circle cx="410" cy="820" r="5.4"/></g>
<g id="n379"><circle cx="376.7" cy="799.75" r="5.4"/></g>
<g id="n380"><circle cx="376.7" cy="820" r="5.4"/></g>
<g id="n381"><circle cx="376.7" cy="840.25" r="5.4"/></g>
<g id="n382"><circle cx="376.7" cy="860.5" r="5.4"/></g>
<g id="n383"><circle cx="443.3" cy="840.25" r="5.4"/></g>
<g id="n384"><circle cx="443.3" cy="860.5" r="5.4"/></g>
<g id="n385"><circle cx="410" cy="840.25" r="5.4"/></g>
<g id="n386"><circle cx="410" cy="860.5" r="5.4"/></g>
<g id="n387"><circle cx="410" cy="880.75" r="5.4"/></g>
<g id="n388"><circle cx="410" cy="901" r="5.4"/></g>
<g id="n389"><circle cx="410" cy="921.25" r="5.4"/></g>
<g id="n390"><circle cx="410" cy="941.5" r="5.4"/></g>
</g>
</svg>
